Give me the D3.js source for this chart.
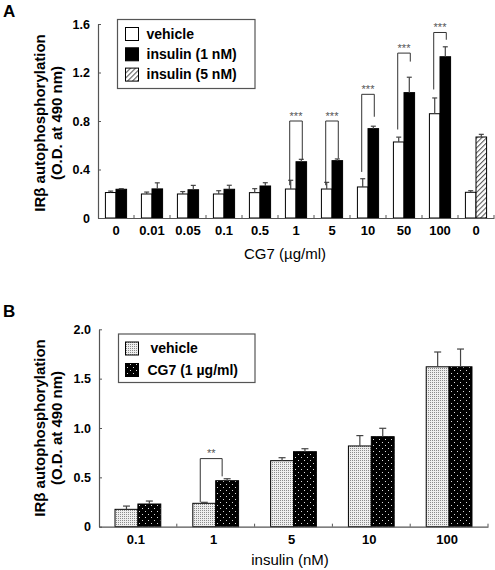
<!DOCTYPE html>
<html><head><meta charset="utf-8">
<script src="https://cdn.jsdelivr.net/npm/d3@7/dist/d3.min.js"></script>
<style>body{margin:0;background:#fff}svg{display:block;font-family:"Liberation Sans",Arial,sans-serif}</style>
</head><body><svg id="c" width="495" height="570"></svg>
<script>
// ---------- Panel A data ----------
const catsA = ["0","0.01","0.05","0.1","0.5","1","5","10","50","100","0"];
const vehicleA    = [0.21,0.198,0.198,0.198,0.209,0.239,0.239,0.256,0.627,0.86,0.212];
const vehicleErrA = [0.012,0.016,0.02,0.027,0.033,0.072,0.055,0.068,0.04,0.13,0.013];
const insulin1A    = [0.237,0.24,0.233,0.237,0.264,0.464,0.473,0.737,1.034,1.33,null];
const insulin1ErrA = [0.005,0.05,0.036,0.033,0.027,0.02,0.014,0.02,0.127,0.082,null];
const insulin5A    = [null,null,null,null,null,null,null,null,null,null,0.668];
const insulin5ErrA = [null,null,null,null,null,null,null,null,null,null,0.022];
const yTicksA = [0,0.4,0.8,1.2,1.6];
const yTickLabelsA = ["0","0.4","0.8","1.2","1.6"];
// significance brackets: group index, top, left-leg end, right-leg end, label
const sigGroupA = [5,6,7,8,9];
const sigTopA   = [0.80,0.80,1.02,1.36,1.53];
const sigLeftA  = [0.27,0.27,0.38,0.73,1.06];
const sigRightA = [0.48,0.49,0.835,1.29,1.47];
const sigLabelA = ["***","***","***","***","***"];
const legendA = ["vehicle","insulin (1 nM)","insulin (5 nM)"];

// ---------- Panel B data ----------
const catsB = ["0.1","1","5","10","100"];
const vehicleB    = [0.176,0.237,0.669,0.818,1.62];
const vehicleErrB = [0.033,0.01,0.03,0.105,0.15];
const cg7B        = [0.23,0.466,0.76,0.912,1.62];
const cg7ErrB     = [0.03,0.02,0.03,0.085,0.18];
const yTicksB = [0,0.5,1.0,1.5,2.0];
const yTickLabelsB = ["0","0.5","1.0","1.5","2.0"];
const sigGroupB = [1];
const sigTopB   = [0.69];
const sigLeftB  = [0.25];
const sigRightB = [0.51];
const sigLabelB = ["**"];
const legendB = [" vehicle","CG7 (1 \u00b5g/ml)"];

const svg = d3.select("#c");
const defs = svg.append("defs");
// hatch
const ph = defs.append("pattern").attr("id","hatch").attr("patternUnits","userSpaceOnUse")
  .attr("width",3.5).attr("height",3.5).attr("patternTransform","rotate(45)");
ph.append("rect").attr("width",3.5).attr("height",3.5).attr("fill","#fff");
ph.append("line").attr("x1",0.5).attr("y1",0).attr("x2",0.5).attr("y2",3.5).attr("stroke","#555").attr("stroke-width",1.1);
// stipple (light)
const pv = defs.append("pattern").attr("id","stip").attr("patternUnits","userSpaceOnUse").attr("width",2).attr("height",2);
pv.append("rect").attr("width",2).attr("height",2).attr("fill","#eeeeee");
pv.append("rect").attr("width",1).attr("height",1).attr("fill","#8a8a8a");
// dark dotted
const pd = defs.append("pattern").attr("id","dots").attr("patternUnits","userSpaceOnUse").attr("width",6).attr("height",6);
pd.append("rect").attr("width",6).attr("height",6).attr("fill","#000");
pd.append("rect").attr("x",1).attr("y",1).attr("width",1).attr("height",1).attr("fill","#ddd");
pd.append("rect").attr("x",4).attr("y",4).attr("width",1).attr("height",1).attr("fill","#ddd");

const AX = "#555";

function panel(o){
  const g = svg.append("g");
  const x = d3.scaleBand().domain(d3.range(o.cats.length)).range(o.xr).padding(0);
  const xs = d3.scaleBand().domain([0,1]).range([0,x.bandwidth()]).paddingInner(0).paddingOuter(0.7);
  const y = d3.scaleLinear().domain(o.yd).range(o.yr);
  // bars
  o.series.forEach((s,si)=>{
    s.vals.forEach((v,i)=>{
      if(v==null) return;
      const fill = typeof s.fill==="function"? s.fill(i): s.fill;
      const bx = x(i)+xs(si);
      g.append("rect").attr("x",bx).attr("y",y(v)).attr("width",xs.bandwidth()).attr("height",y(0)-y(v))
        .attr("fill",fill).attr("stroke","#000").attr("stroke-width",1);
      const e = s.errs[i];
      if(e!=null){
        const cx = bx+xs.bandwidth()/2;
        g.append("line").attr("x1",cx).attr("x2",cx).attr("y1",y(v)).attr("y2",y(v+e)).attr("stroke","#444").attr("stroke-width",1.2);
        g.append("line").attr("x1",cx-o.cap).attr("x2",cx+o.cap).attr("y1",y(v+e)).attr("y2",y(v+e)).attr("stroke","#444").attr("stroke-width",1.2);
      }
    });
  });
  // axes
  const ya = d3.axisLeft(y).tickValues(o.yt).tickFormat((d,i)=>o.ytl[i]).tickSizeInner(-3).tickSizeOuter(0).tickPadding(8);
  const yg = g.append("g").attr("transform",`translate(${o.xr[0]},0)`).call(ya);
  yg.select(".domain").attr("stroke",AX).attr("stroke-width",1.2);
  yg.selectAll(".tick line").attr("stroke",AX);
  yg.selectAll("text").attr("font-size",12.5).attr("font-weight","bold").attr("fill","#000").attr("font-family","Liberation Sans, Arial");
  const xa = d3.axisBottom(x).tickFormat(i=>o.cats[i]).tickSize(0).tickPadding(o.xpad);
  const xg = g.append("g").attr("transform",`translate(0,${o.yr[0]})`).call(xa);
  xg.select(".domain").attr("stroke",AX).attr("stroke-width",1.2);
  xg.selectAll("text").attr("font-size",13).attr("font-weight","bold").attr("fill","#000").attr("font-family","Liberation Sans, Arial").attr("dx",o.xdx);
  // boundary ticks
  const bounds = d3.range(o.cats.length+1).map(i=> i<o.cats.length? x(i): o.xr[1]);
  xg.selectAll(".bt").data(bounds.slice(1)).join("line").attr("x1",d=>d).attr("x2",d=>d).attr("y1",0).attr("y2",-3).attr("stroke",AX);
  // y title
  const tg = g.append("g").attr("transform",`translate(0,${o.ycen}) rotate(-90)`);
  tg.append("text").attr("x",0).attr("y",o.ytx[0]).attr("text-anchor","middle").attr("font-size",15).attr("font-weight","bold").text("IR\u03b2 autophosphorylation");
  tg.append("text").attr("x",0).attr("y",o.ytx[1]).attr("text-anchor","middle").attr("font-size",15).attr("font-weight","bold").text("(O.D. at 490 nm)");
  // x title
  g.append("text").attr("x",o.xtitle[0]).attr("y",o.xtitle[1]).attr("text-anchor","middle").attr("font-size",15).text(o.xtitleText);
  // panel letter
  g.append("text").attr("x",o.letter[0]).attr("y",o.letter[1]).attr("font-size",17).attr("font-weight","bold").text(o.letterText);
  // significance
  o.sig.group.forEach((gi,k)=>{
    const lx = x(gi)+xs(0)+xs.bandwidth()/2 + o.legOff[0];
    const rx = x(gi)+xs(1)+xs.bandwidth()/2 + o.legOff[1];
    const ty = y(o.sig.top[k]);
    g.append("path").attr("d",`M${lx},${y(o.sig.left[k])}V${ty}H${rx}V${y(o.sig.right[k])}`)
      .attr("fill","none").attr("stroke","#333").attr("stroke-width",1);
    g.append("text").attr("x",(lx+rx)/2).attr("y",ty+o.starDy).attr("text-anchor","middle").attr("font-size",11).attr("fill","#555").text(o.sig.label[k]);
  });
  // legend
  const L = o.legend;
  g.append("rect").attr("x",L.x).attr("y",L.y).attr("width",L.w).attr("height",L.h).attr("fill","#fff").attr("stroke","#555").attr("stroke-width",1.2);
  L.items.forEach((t,i)=>{
    g.append("rect").attr("x",L.sx).attr("y",L.sy+i*L.dy).attr("width",13).attr("height",13).attr("fill",L.fills[i]).attr("stroke","#000");
    g.append("text").attr("x",L.tx[i]).attr("y",L.sy+i*L.dy+11).attr("font-size",14).attr("font-weight","bold").attr("xml:space","preserve").text(t);
  });
}

panel({
  cats:catsA, xr:[98,494], yd:[0,1.6], yr:[218,24], cap:2.5,
  series:[
    {vals:vehicleA, errs:vehicleErrA, fill:"#fff"},
    {vals:insulin1A.map((v,i)=>v!=null?v:insulin5A[i]), errs:insulin1ErrA.map((v,i)=>v!=null?v:insulin5ErrA[i]), fill:i=>insulin5A[i]!=null?"url(#hatch)":"#000"}
  ],
  yt:yTicksA, ytl:yTickLabelsA, xpad:8, xdx:0,
  ycen:123, ytx:[45,62],
  xtitle:[285,259], xtitleText:"CG7 (\u00b5g/ml)",
  letter:[3,17], letterText:"A",
  sig:{group:sigGroupA, top:sigTopA, left:sigLeftA, right:sigRightA, label:sigLabelA},
  legOff:[-1,1], starDy:-1,
  legend:{x:117.5,y:19.5,w:137.5,h:69,sx:125.5,sy:27.5,dy:20.3,tx:[146.5,146.5,146.5],items:legendA,fills:["#fff","#000","url(#hatch)"]}
});

panel({
  cats:catsB, xr:[99,488], yd:[0,2.0], yr:[526.7,329.3], cap:3.5,
  series:[
    {vals:vehicleB, errs:vehicleErrB, fill:"url(#stip)"},
    {vals:cg7B, errs:cg7ErrB, fill:"url(#dots)"}
  ],
  yt:yTicksB, ytl:yTickLabelsB, xpad:8, xdx:-2,
  ycen:428, ytx:[45,62],
  xtitle:[290,565], xtitleText:"insulin (nM)",
  letter:[3,317], letterText:"B",
  sig:{group:sigGroupB, top:sigTopB, left:sigLeftB, right:sigRightB, label:sigLabelB},
  legOff:[-4,-5], starDy:-2,
  legend:{x:118.5,y:334,w:136.5,h:48.5,sx:125.5,sy:342,dy:21.5,tx:[146.5,147.5],items:legendB,fills:["url(#stip)","url(#dots)"]}
});
</script></body></html>
